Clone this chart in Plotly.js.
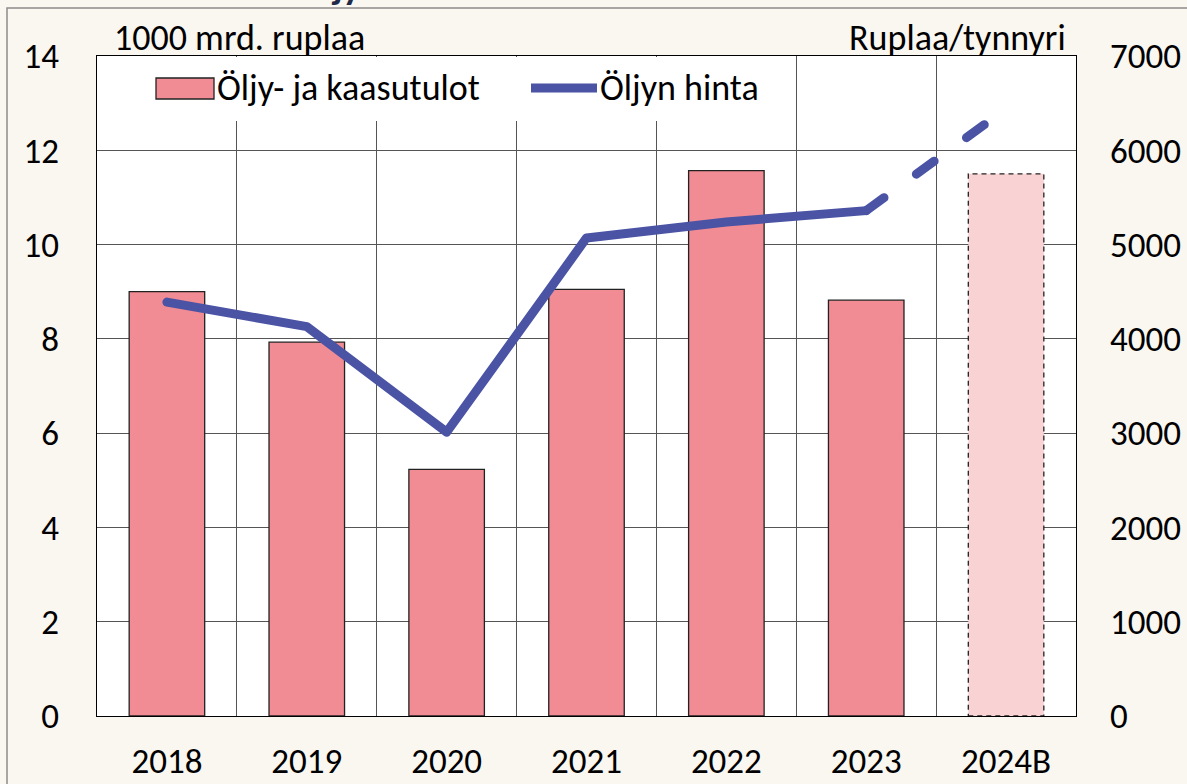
<!DOCTYPE html>
<html><head><meta charset="utf-8">
<script src="https://cdn.plot.ly/plotly-3.0.1.min.js"></script>
<style>
html,body{margin:0;padding:0;background:#FAF6F0;}
#chart{width:1187px;height:784px;}
.scatterlayer .js-line{stroke-linecap:round;stroke-linejoin:round;}
</style></head><body><div id="chart"></div>
<script>
// ---- data ----
const categories = ['2018','2019','2020','2021','2022','2023','2024B'];
const revenues = [9.0, 7.93, 5.23, 9.05, 11.57, 8.82, 11.5];     // 1000 mrd. ruplaa
const oilPrice = [4390, 4130, 3010, 5070, 5240, 5360, 6440];     // ruplaa/tynnyri
const leftTicks = [0, 2, 4, 6, 8, 10, 12, 14];
const rightTicks = [0, 1000, 2000, 3000, 4000, 5000, 6000, 7000];
const seriesNames = ['Öljy- ja kaasutulot', 'Öljyn hinta'];
const leftUnit = '1000 mrd. ruplaa';
const rightUnit = 'Ruplaa/tynnyri';
const titleText = 'Öljy';

// ---- styling ----
const FONT = "Carlito, 'Open Sans', sans-serif";
const BAR = '#F28C94', BAR_B = '#F9D2D4', LINE = '#4A53A4', GRID = '#555555';
const W = 1187, H = 784, L = 97, R = 1076, T = 56, B = 716;
const px = x => (x - L) / (R - L);
const py = y => (B - y) / (B - T);
const barW = 0.54;
const isBudget = categories.map(c => /B$/.test(c));
const lastActual = isBudget.indexOf(true) - 1;
const bi = isBudget.indexOf(true);

const traces = [
  {
    type: 'bar', x: categories, y: revenues, name: seriesNames[0], width: barW,
    marker: {color: isBudget.map(b => b ? BAR_B : BAR),
             line: {color: '#222', width: isBudget.map(b => b ? 0 : 1.3)}},
    showlegend: false, hoverinfo: 'x+y'
  },
  {
    type: 'scatter', mode: 'lines', x: categories.slice(0, lastActual + 1),
    y: oilPrice.slice(0, lastActual + 1), yaxis: 'y2', name: seriesNames[1],
    line: {color: LINE, width: 9}, showlegend: false
  },
  {
    type: 'scatter', mode: 'lines', x: categories.slice(lastActual),
    y: oilPrice.slice(lastActual), yaxis: 'y2', name: seriesNames[1],
    line: {color: LINE, width: 9, dash: '22px,40px'}, showlegend: false
  }
];

const tickFont = {family: FONT, size: 35, color: '#000'};
const layout = {
  width: W, height: H,
  margin: {l: L, r: W - R, t: T, b: H - B, pad: 0},
  paper_bgcolor: '#FAF6F0', plot_bgcolor: '#FFFFFF',
  font: {family: FONT, color: '#000'},
  showlegend: false,
  xaxis: {type: 'category', range: [-0.5, categories.length - 0.5], tickson: 'boundaries',
          showgrid: true, gridcolor: GRID, gridwidth: 1, ticks: '', showline: true,
          linecolor: '#000', linewidth: 1, mirror: true, tickfont: tickFont,
          ticklabelstandoff: 14, fixedrange: true},
  yaxis: {range: [0, 14], tickvals: leftTicks, showgrid: true, gridcolor: GRID, gridwidth: 1,
          zeroline: false, ticks: '', showline: true, linecolor: '#000', linewidth: 1, mirror: true,
          tickfont: tickFont, ticklabelstandoff: 30, fixedrange: true},
  yaxis2: {range: [0, 7000], tickvals: rightTicks, overlaying: 'y', side: 'right', showgrid: false,
           zeroline: false, ticks: '', showline: false, tickfont: tickFont,
           ticklabelstandoff: 33, fixedrange: true},
  shapes: [
    // outer frame
    {type: 'rect', xref: 'paper', yref: 'paper', x0: px(7), x1: px(1300), y0: py(900), y1: py(8),
     line: {color: '#8C8C8C', width: 1.5}, fillcolor: 'rgba(0,0,0,0)', layer: 'above'},
    // legend background
    {type: 'rect', xref: 'paper', yref: 'paper', x0: px(98), x1: px(776), y0: py(121), y1: py(57),
     line: {width: 0}, fillcolor: '#FFFFFF', layer: 'above'},
    // legend bar swatch
    {type: 'rect', xref: 'paper', yref: 'paper', x0: px(156), x1: px(214), y0: py(99), y1: py(78),
     line: {color: '#222', width: 1.3}, fillcolor: BAR, layer: 'above'},
    // legend line swatch
    {type: 'line', xref: 'paper', yref: 'paper', x0: px(531), x1: px(597), y0: py(88), y1: py(88),
     line: {color: LINE, width: 9}, layer: 'above'},
    // dashed outline of budget bar
    {type: 'rect', xref: 'x', yref: 'y', x0: bi - barW / 2, x1: bi + barW / 2, y0: 0, y1: revenues[bi],
     line: {color: '#222', width: 1.3, dash: '5px,4px'}, fillcolor: 'rgba(0,0,0,0)', layer: 'above'}
  ],
  annotations: [
    {xref: 'paper', yref: 'paper', x: px(112), y: py(38), xanchor: 'left', yanchor: 'middle',
     text: leftUnit, showarrow: false, font: {family: FONT, size: 36, color: '#000'}},
    {xref: 'paper', yref: 'paper', x: px(1068), y: py(38), xanchor: 'right', yanchor: 'middle',
     text: rightUnit, showarrow: false, font: {family: FONT, size: 36, color: '#000'}},
    {xref: 'paper', yref: 'paper', x: px(215), y: py(88), xanchor: 'left', yanchor: 'middle',
     text: seriesNames[0], showarrow: false, font: {family: FONT, size: 36, color: '#000'}},
    {xref: 'paper', yref: 'paper', x: px(598), y: py(88), xanchor: 'left', yanchor: 'middle',
     text: seriesNames[1], showarrow: false, font: {family: FONT, size: 36, color: '#000'}},
    {xref: 'paper', yref: 'paper', x: px(296), y: py(10.5), xanchor: 'left', yanchor: 'bottom',
     text: '<b>' + titleText + '</b>', showarrow: false, font: {family: FONT, size: 38, color: '#1F2A48'}}
  ]
};

Plotly.newPlot('chart', traces, layout, {displayModeBar: false, staticPlot: true});
</script></body></html>
